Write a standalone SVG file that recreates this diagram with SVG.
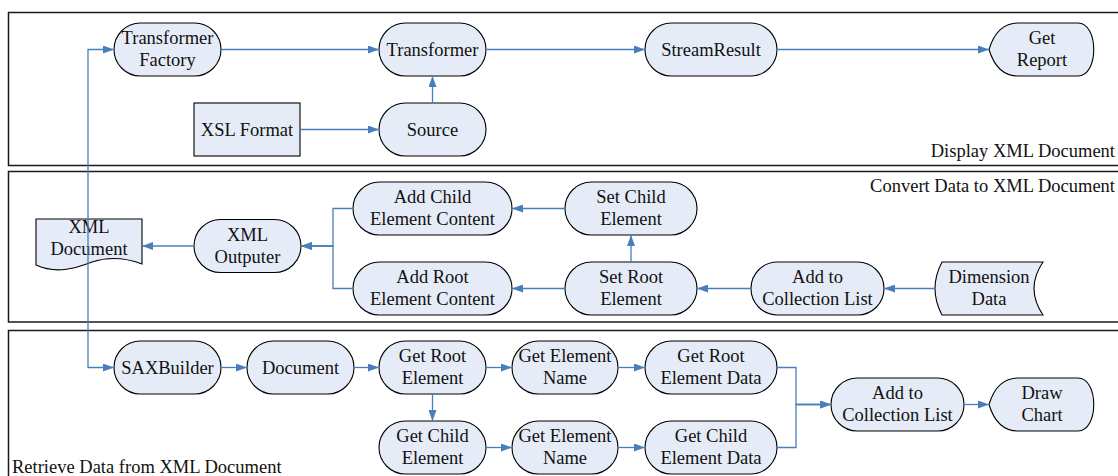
<svg xmlns="http://www.w3.org/2000/svg" width="1118" height="476" viewBox="0 0 1118 476">
<style>
.panel{fill:none;stroke:#1a1a1a;stroke-width:1.5}
.n{fill:#e6ecf7;stroke:#000;stroke-width:1.1}
.t{font-family:"Liberation Serif","Times New Roman",serif;font-size:18.5px;fill:#111;text-anchor:middle}
.pl{font-family:"Liberation Serif","Times New Roman",serif;font-size:18.5px;fill:#111}
.c{fill:none;stroke:#4a7ebb;stroke-width:1.3;marker-end:url(#ah)}
</style>
<defs>
<marker id="ah" markerUnits="userSpaceOnUse" markerWidth="11" markerHeight="8" refX="11" refY="4" orient="auto">
<path d="M0,0 L11,4 L0,8 Z" fill="#4a7ebb"/>
</marker>
</defs>
<rect width="1118" height="476" fill="#fff"/>
<g id="panels">
<rect class="panel" x="8.5" y="12.5" width="1115" height="153"/>
<rect class="panel" x="8.5" y="171.5" width="1115" height="150.5"/>
<rect class="panel" x="8.5" y="330.5" width="1115" height="150"/>
<text class="pl" x="1115" y="157" text-anchor="end">Display XML Document</text>
<text class="pl" x="1115" y="192" text-anchor="end">Convert Data to XML Document</text>
<text class="pl" x="12" y="473">Retrieve Data from XML Document</text>
</g>
<g id="n-transformer-factory"><rect class="n" x="114" y="23" width="107" height="53" rx="26.5"/><text class="t" x="167.5" y="44">Transformer</text><text class="t" x="167.5" y="66">Factory</text></g>
<g id="n-transformer"><rect class="n" x="379" y="23" width="107" height="53" rx="26.5"/><text class="t" x="432.5" y="55.5">Transformer</text></g>
<g id="n-streamresult"><rect class="n" x="645" y="23" width="132" height="53" rx="26.5"/><text class="t" x="711" y="55.5">StreamResult</text></g>
<g id="n-get-report"><path class="n" d="M989,49.5 C994,33 1003,23 1018,23 H1078 C1099,23 1099,76 1078,76 H1018 C1003,76 994,66 989,49.5 Z"/><text class="t" x="1042" y="44">Get</text><text class="t" x="1042" y="66">Report</text></g>
<g id="n-xsl-format"><rect class="n" x="194" y="103" width="106" height="53"/><text class="t" x="247" y="135.5">XSL Format</text></g>
<g id="n-source"><rect class="n" x="379" y="103" width="107" height="53" rx="26.5"/><text class="t" x="432.5" y="135.5">Source</text></g>
<g id="n-xml-document"><path class="n" d="M36,219 H142 V264 C126,258 110,256 92,262 C74,269 56,274 36,265 Z"/><text class="t" x="89" y="233">XML</text><text class="t" x="89" y="255">Document</text></g>
<g id="n-xml-outputer"><rect class="n" x="194" y="219.5" width="107" height="53" rx="26.5"/><text class="t" x="247.5" y="240.5">XML</text><text class="t" x="247.5" y="262.5">Outputer</text></g>
<g id="n-add-child-content"><rect class="n" x="353" y="182" width="159" height="53" rx="26.5"/><text class="t" x="432.5" y="203">Add Child</text><text class="t" x="432.5" y="225">Element Content</text></g>
<g id="n-set-child"><rect class="n" x="565" y="182" width="132" height="53" rx="26.5"/><text class="t" x="631" y="203">Set Child</text><text class="t" x="631" y="225">Element</text></g>
<g id="n-add-root-content"><rect class="n" x="353" y="262" width="159" height="53" rx="26.5"/><text class="t" x="432.5" y="283">Add Root</text><text class="t" x="432.5" y="305">Element Content</text></g>
<g id="n-set-root"><rect class="n" x="565" y="262" width="132" height="53" rx="26.5"/><text class="t" x="631" y="283">Set Root</text><text class="t" x="631" y="305">Element</text></g>
<g id="n-add-collection-1"><rect class="n" x="751" y="262" width="133" height="53" rx="26.5"/><text class="t" x="817.5" y="283">Add to</text><text class="t" x="817.5" y="305">Collection List</text></g>
<g id="n-dimension-data"><path class="n" d="M942,262 H1043 Q1025,288.5 1043,315 H942 Q928,288.5 942,262 Z"/><text class="t" x="989" y="283">Dimension</text><text class="t" x="989" y="305">Data</text></g>
<g id="n-saxbuilder"><rect class="n" x="114" y="341" width="107" height="53" rx="26.5"/><text class="t" x="167.5" y="373.5">SAXBuilder</text></g>
<g id="n-document"><rect class="n" x="247" y="341" width="107" height="53" rx="26.5"/><text class="t" x="300.5" y="373.5">Document</text></g>
<g id="n-get-root"><rect class="n" x="379" y="341" width="107" height="53" rx="26.5"/><text class="t" x="432.5" y="362">Get Root</text><text class="t" x="432.5" y="384">Element</text></g>
<g id="n-get-name-1"><rect class="n" x="512" y="341" width="106" height="53" rx="26.5"/><text class="t" x="565" y="362">Get Element</text><text class="t" x="565" y="384">Name</text></g>
<g id="n-get-root-data"><rect class="n" x="645" y="341" width="132" height="53" rx="26.5"/><text class="t" x="711" y="362">Get Root</text><text class="t" x="711" y="384">Element Data</text></g>
<g id="n-get-child"><rect class="n" x="379" y="421" width="107" height="53" rx="26.5"/><text class="t" x="432.5" y="442">Get Child</text><text class="t" x="432.5" y="464">Element</text></g>
<g id="n-get-name-2"><rect class="n" x="512" y="421" width="106" height="53" rx="26.5"/><text class="t" x="565" y="442">Get Element</text><text class="t" x="565" y="464">Name</text></g>
<g id="n-get-child-data"><rect class="n" x="645" y="421" width="132" height="53" rx="26.5"/><text class="t" x="711" y="442">Get Child</text><text class="t" x="711" y="464">Element Data</text></g>
<g id="n-add-collection-2"><rect class="n" x="831" y="378" width="133" height="53" rx="26.5"/><text class="t" x="897.5" y="399">Add to</text><text class="t" x="897.5" y="421">Collection List</text></g>
<g id="n-draw-chart"><path class="n" d="M989,404.5 C994,388 1003,378 1018,378 H1078 C1099,378 1099,431 1078,431 H1018 C1003,431 994,421 989,404.5 Z"/><text class="t" x="1042" y="399">Draw</text><text class="t" x="1042" y="421">Chart</text></g>
<g id="connectors">
<path class="c" d="M88,246 V49.5 H114"/>
<path class="c" d="M88,246 V367.5 H114"/>
<path class="c" d="M221,49.5 H379"/>
<path class="c" d="M486,49.5 H645"/>
<path class="c" d="M777,49.5 H989"/>
<path class="c" d="M432.5,103 V76"/>
<path class="c" d="M300,129.5 H379"/>
<path class="c" d="M194,246 H142"/>
<path class="c" d="M353,208.5 H333 V246 H301"/>
<path class="c" d="M353,288.5 H333 V246 H301"/>
<path class="c" d="M565,208.5 H512"/>
<path class="c" d="M631,262 V235"/>
<path class="c" d="M565,288.5 H512"/>
<path class="c" d="M751,288.5 H697"/>
<path class="c" d="M935,288.5 H884"/>
<path class="c" d="M221,367.5 H247"/>
<path class="c" d="M354,367.5 H379"/>
<path class="c" d="M486,367.5 H512"/>
<path class="c" d="M618,367.5 H645"/>
<path class="c" d="M432.5,394 V421"/>
<path class="c" d="M486,447.5 H512"/>
<path class="c" d="M618,447.5 H645"/>
<path class="c" d="M777,367.5 H796 V404.5 H831"/>
<path class="c" d="M777,447.5 H796 V404.5 H831"/>
<path class="c" d="M964,404.5 H989"/>
</g>
</svg>
